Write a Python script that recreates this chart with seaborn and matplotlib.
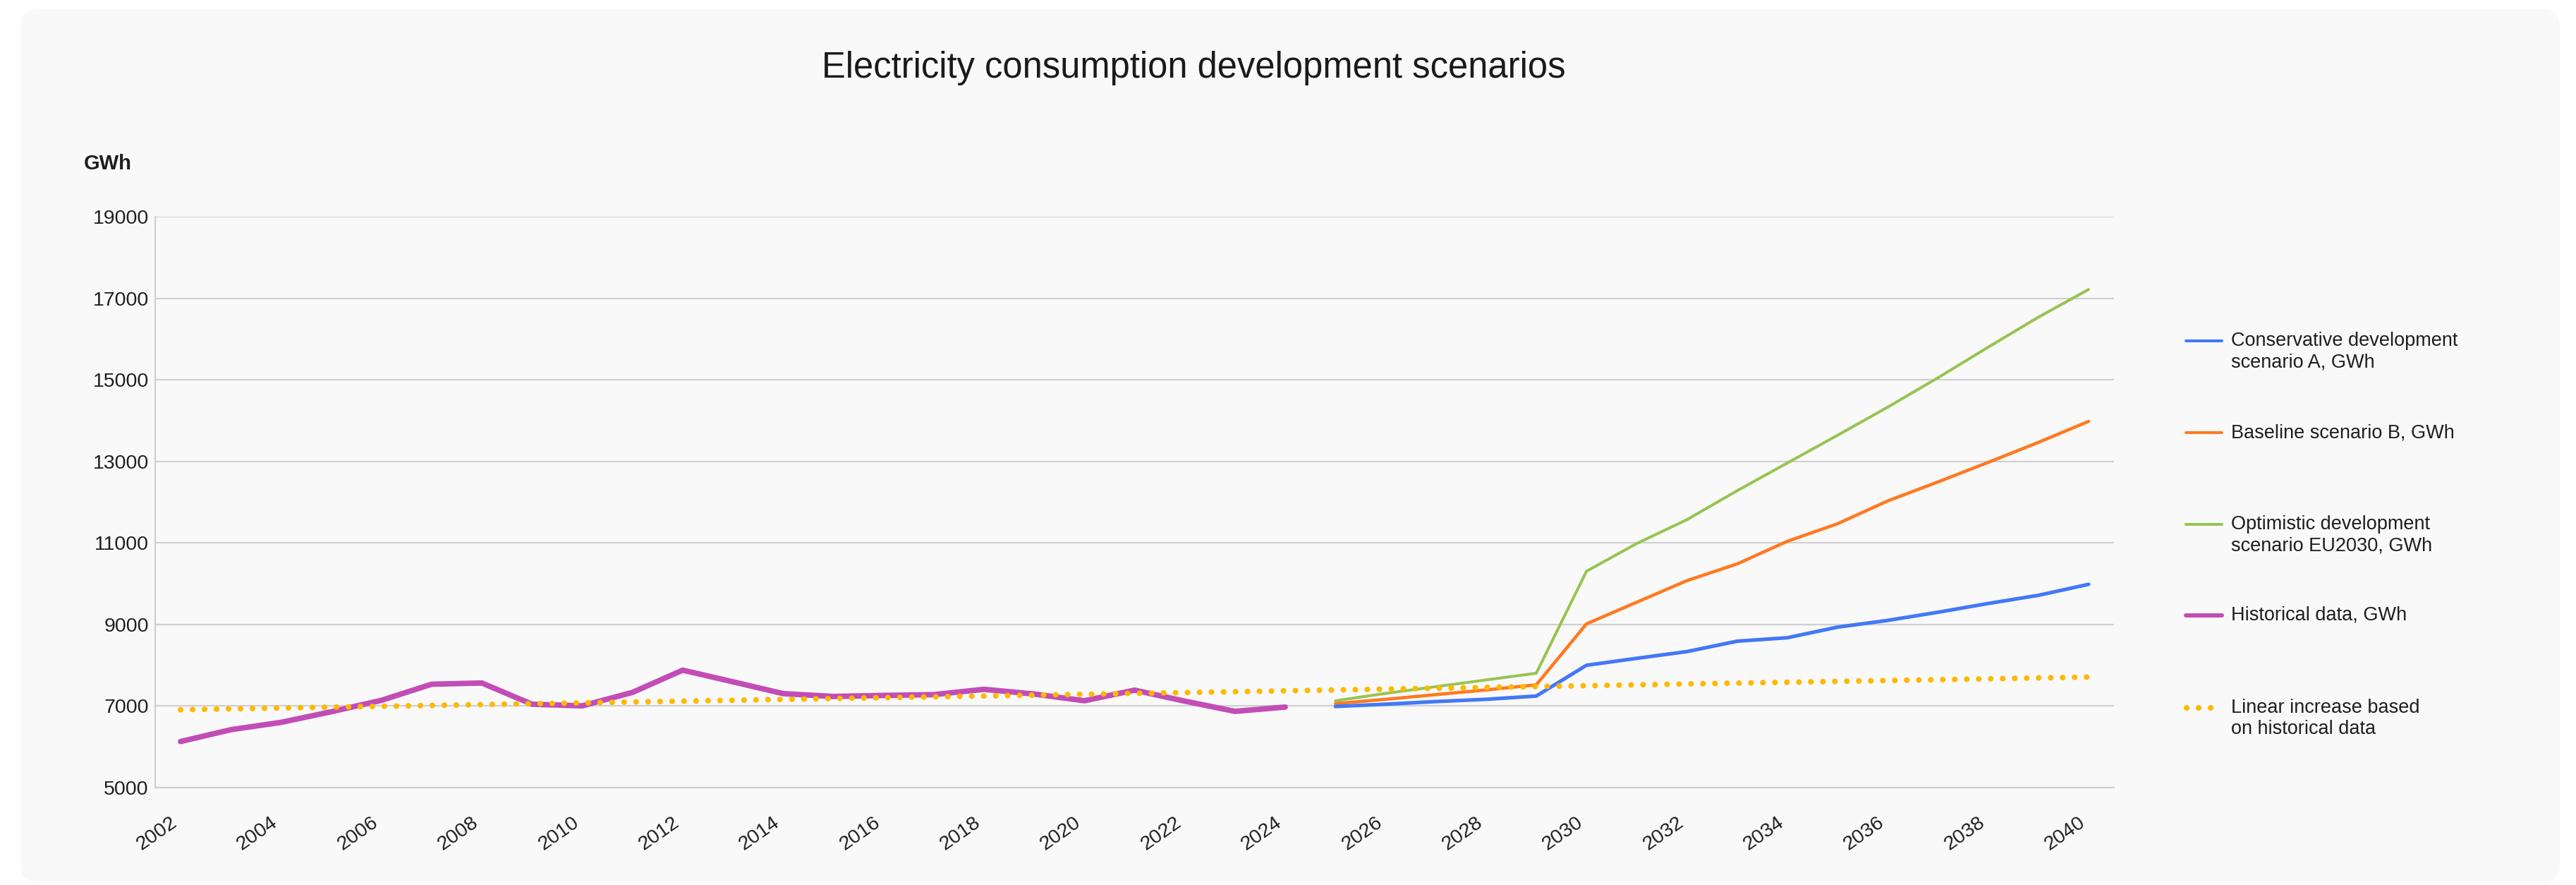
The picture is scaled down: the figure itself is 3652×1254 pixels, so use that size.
import matplotlib
matplotlib.use("Agg")
import matplotlib.pyplot as plt
from matplotlib.lines import Line2D
from matplotlib.patches import FancyBboxPatch
import pandas as pd
import seaborn as sns

###############################################################
#-----------------------Data-----------------------------------#
###############################################################
hist_years = [2002, 2003, 2004, 2005, 2006, 2007, 2008, 2009, 2010, 2011, 2012, 2013,
              2014, 2015, 2016, 2017, 2018, 2019, 2020, 2021, 2022, 2023, 2024]
hist_values = [6130, 6420, 6600, 6860, 7140, 7535, 7565, 7045, 7005, 7335, 7880, 7595,
               7305, 7235, 7260, 7280, 7410, 7295, 7130, 7390, 7120, 6870, 6975]

scen_years = [2025, 2026, 2027, 2028, 2029, 2030, 2031, 2032,
              2033, 2034, 2035, 2036, 2037, 2038, 2039, 2040]
scen_a = [6990, 7045, 7110, 7165, 7245, 8000, 8170, 8335,
          8590, 8675, 8935, 9100, 9300, 9515, 9715, 9985]
scen_b = [7060, 7165, 7280, 7395, 7520, 9015, 9545, 10075,
          10485, 11040, 11470, 12030, 12495, 12975, 13465, 13980]
scen_eu = [7130, 7310, 7475, 7640, 7805, 10305, 10985, 11570,
           12280, 12960, 13640, 14330, 15050, 15800, 16535, 17215]

# straight trend line, read at both ends
trend_years = [2002, 2040]
trend_values = [6910, 7710]

y_ticks = [5000, 7000, 9000, 11000, 13000, 15000, 17000, 19000]
x_ticks = list(range(2002, 2041, 2))

labels = ["Conservative development\nscenario A, GWh",
          "Baseline scenario B, GWh",
          "Optimistic development\nscenario EU2030, GWh",
          "Historical data, GWh",
          "Linear increase based\non historical data"]

title = "Electricity consumption development scenarios"
unit = "GWh"

###############################################################
#-----------------------Style----------------------------------#
###############################################################
BLUE = "#4378f6"
ORANGE = "#ff7a21"
GREEN = "#97c451"
PURPLE = "#c24db6"
YELLOW = "#ffb800"
GRID = "#d0d0d0"
TXT = "#1e1e1e"

sns.set_theme(style="white")
plt.rcParams["font.family"] = ["Liberation Sans", "DejaVu Sans"]

W, H = 3652, 1254
fx = lambda px: px / W
fy = lambda py: 1 - py / H

fig = plt.figure(figsize=(W / 100, H / 100), dpi=100)
fig.patch.set_facecolor("white")

# rounded light panel behind everything
bg = FancyBboxPatch((0.29, 0.04), 36.0, 12.37,
                    boxstyle="round,pad=0,rounding_size=0.25",
                    transform=fig.dpi_scale_trans,
                    facecolor="#f9f9f9", edgecolor="none", zorder=-10)
fig.patches.append(bg)

ax = fig.add_axes([fx(220.4), fy(1116), (2996.6 - 220.4) / W, 809 / H])
ax.set_facecolor("none")

###############################################################
#-----------------------Lines----------------------------------#
###############################################################
df_hist = pd.DataFrame({"year": hist_years, "gwh": hist_values})
df_scen = pd.DataFrame({"year": scen_years, "a": scen_a, "b": scen_b, "eu": scen_eu})
df_trend = pd.DataFrame({"year": trend_years, "gwh": trend_values})

sns.lineplot(data=df_scen, x="year", y="eu", ax=ax, color=GREEN, linewidth=2.9,
             solid_capstyle="round", zorder=3)
sns.lineplot(data=df_scen, x="year", y="b", ax=ax, color=ORANGE, linewidth=3.3,
             solid_capstyle="round", zorder=4)
sns.lineplot(data=df_scen, x="year", y="a", ax=ax, color=BLUE, linewidth=3.7,
             solid_capstyle="round", zorder=5)
sns.lineplot(data=df_hist, x="year", y="gwh", ax=ax, color=PURPLE, linewidth=5.6,
             solid_capstyle="round", solid_joinstyle="round", zorder=6)
sns.lineplot(data=df_trend, x="year", y="gwh", ax=ax, color=YELLOW, linewidth=5.8,
             linestyle=(0, (0.01, 2.1)), dash_capstyle="round", zorder=7)

###############################################################
#-----------------------Axes-----------------------------------#
###############################################################
ax.set_xlim(2001.5, 2040.5)
ax.set_ylim(5000, 19000)
ax.set_yticks(y_ticks)
ax.set_yticklabels([str(v) for v in y_ticks])
ax.set_xticks(x_ticks)
ax.set_xticklabels([str(v) for v in x_ticks], rotation=35, ha="right", va="top")
ax.tick_params(axis="y", length=0, pad=7, labelsize=20.5, labelcolor=TXT)
ax.tick_params(axis="x", length=0, pad=26, labelsize=20.5, labelcolor=TXT)
ax.set_xlabel("")
ax.set_ylabel("")
ax.grid(axis="y", color=GRID, linewidth=1.6)
ax.grid(axis="x", visible=False)
for s in ["top", "right"]:
    ax.spines[s].set_visible(False)
for s in ["left", "bottom"]:
    ax.spines[s].set_color(GRID)
    ax.spines[s].set_linewidth(1.6)

fig.text(fx(1692), fy(110), title, ha="center", va="baseline",
         fontsize=36.5, color="#1a1a1a")
fig.text(fx(119), fy(240), unit, ha="left", va="baseline",
         fontsize=21, fontweight="bold", color=TXT)

###############################################################
#-----------------------Legend---------------------------------#
###############################################################
leg_colors = [BLUE, ORANGE, GREEN, PURPLE, YELLOW]
leg_widths = [2.9, 2.9, 2.9, 4.3, 5.8]
leg_rows = [483, 613, 743, 872, 1003]
for lab, col, lw, row in zip(labels, leg_colors, leg_widths, leg_rows):
    if col == YELLOW:
        h = Line2D([fx(3100), fx(3135)], [fy(row), fy(row)], color=col, linewidth=lw,
                   linestyle=(0, (0.01, 2.1)), dash_capstyle="round",
                   transform=fig.transFigure)
    else:
        h = Line2D([fx(3099), fx(3150)], [fy(row), fy(row)], color=col, linewidth=lw,
                   solid_capstyle="round", transform=fig.transFigure)
    fig.add_artist(h)
    n = lab.count("\n")
    fig.text(fx(3163), fy(row + 15 * n), lab, ha="left", va="center",
             fontsize=19.5, color=TXT, linespacing=1.2)

fig.savefig("out.png", dpi=100, facecolor=fig.get_facecolor())
